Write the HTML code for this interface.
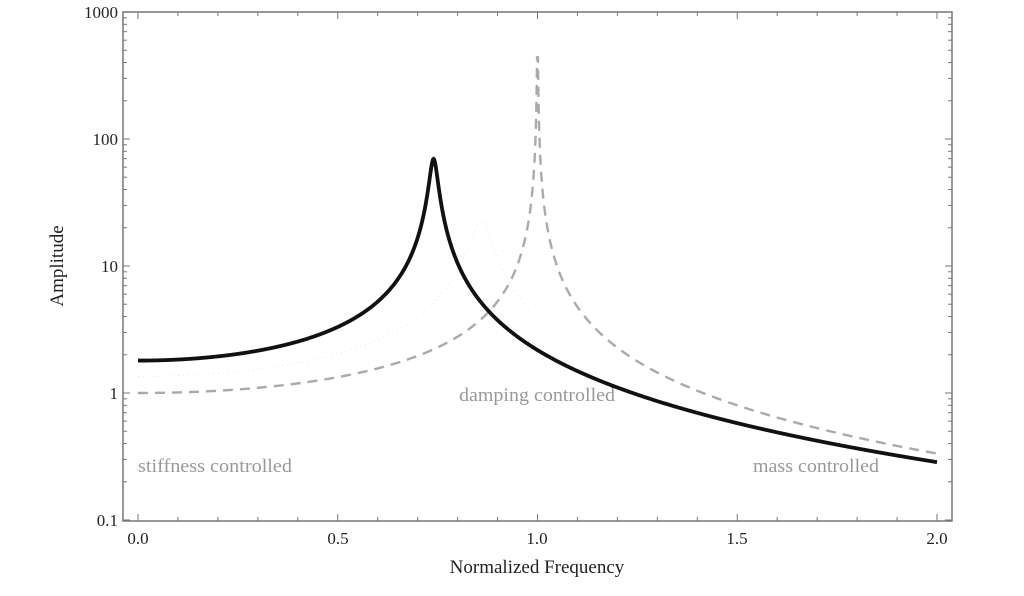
<!DOCTYPE html>
<html><head><meta charset="utf-8"><style>
html,body{margin:0;padding:0;background:#fff;}
svg{display:block;font-family:"Liberation Serif",serif;}
</style></head><body>
<svg id="s" width="1024" height="596" viewBox="0 0 1024 596" xmlns="http://www.w3.org/2000/svg">
<rect x="123" y="12" width="829" height="509" fill="none" stroke="#777" stroke-width="1.5"/>
<g id="ticks" stroke="#777" stroke-width="1"></g>
<g font-size="17" fill="#222" text-anchor="end">
<text x="118" y="18">1000</text>
<text x="118" y="145">100</text>
<text x="118" y="272">10</text>
<text x="118" y="399">1</text>
<text x="118" y="526">0.1</text>
</g>
<g font-size="17" fill="#222" text-anchor="middle">
<text x="138" y="544">0.0</text>
<text x="338" y="544">0.5</text>
<text x="537" y="544">1.0</text>
<text x="737" y="544">1.5</text>
<text x="937" y="544">2.0</text>
</g>
<g font-size="19" fill="#222" text-anchor="middle">
<text x="537" y="573">Normalized Frequency</text>
<text transform="translate(63,266) rotate(-90)">Amplitude</text>
</g>
<g font-size="19" fill="#999">
<text x="138" y="472" textLength="154" lengthAdjust="spacingAndGlyphs">stiffness controlled</text>
<text x="459" y="401" textLength="156" lengthAdjust="spacingAndGlyphs">damping controlled</text>
<text x="753" y="472" textLength="126" lengthAdjust="spacingAndGlyphs">mass controlled</text>
</g>
<path id="dot" fill="none" stroke="#e8e8e8" stroke-width="1.2" stroke-dasharray="1,4"/>
<path id="dash" fill="none" stroke="#aaa" stroke-width="2.4" stroke-dasharray="10,7"/>
<path id="solid" fill="none" stroke="#111" stroke-width="3.8"/>
</svg>
<script>
function X(r){return 138+399.5*r;}
function Y(a){return 393-127*Math.log10(a);}
var ns="http://www.w3.org/2000/svg",g=document.getElementById('ticks');
function ln(x1,y1,x2,y2){var l=document.createElementNS(ns,'line');l.setAttribute('x1',x1);l.setAttribute('y1',y1);l.setAttribute('x2',x2);l.setAttribute('y2',y2);g.appendChild(l);}
for(var i=0;i<=20;i++){var x=X(i/10),L=(i%5==0)?7:4;ln(x,521,x,521-L);ln(x,12,x,12+L);}
for(var d=-1;d<3;d++)for(var k=1;k<=9;k++){var y=Y(k*Math.pow(10,d)),L=k==1?7:4;ln(123,y,123+L,y);ln(952,y,952-L,y);}
ln(123,12,130,12);ln(952,12,945,12);
function path(f,a,b,n){var s='';for(var i=0;i<=n;i++){var r=a+(b-a)*i/n;var v=f(r);s+=(i?'L':'M')+X(r).toFixed(2)+','+Y(v).toFixed(2);}return s;}
var r0=0.74,z=0.0129;
function sol(r){var q=r/r0;return 1.8/Math.sqrt((1-q*q)*(1-q*q)+(2*z*q)*(2*z*q));}
document.getElementById('solid').setAttribute('d',path(sol,0,2,2000));
function dsh(r){var v=1/Math.abs(1-r*r);return Math.min(v,440);}
var d=path(dsh,0,0.9989,1200)+path(dsh,1.0011,2,1200).replace('M','L');
document.getElementById('dash').setAttribute('d',d);
function dt(r){var q=r/0.86;return 1.35/Math.sqrt((1-q*q)*(1-q*q)+(0.06*q)*(0.06*q));}
document.getElementById('dot').setAttribute('d',path(dt,0,1.0,600));
</script>
</body></html>
